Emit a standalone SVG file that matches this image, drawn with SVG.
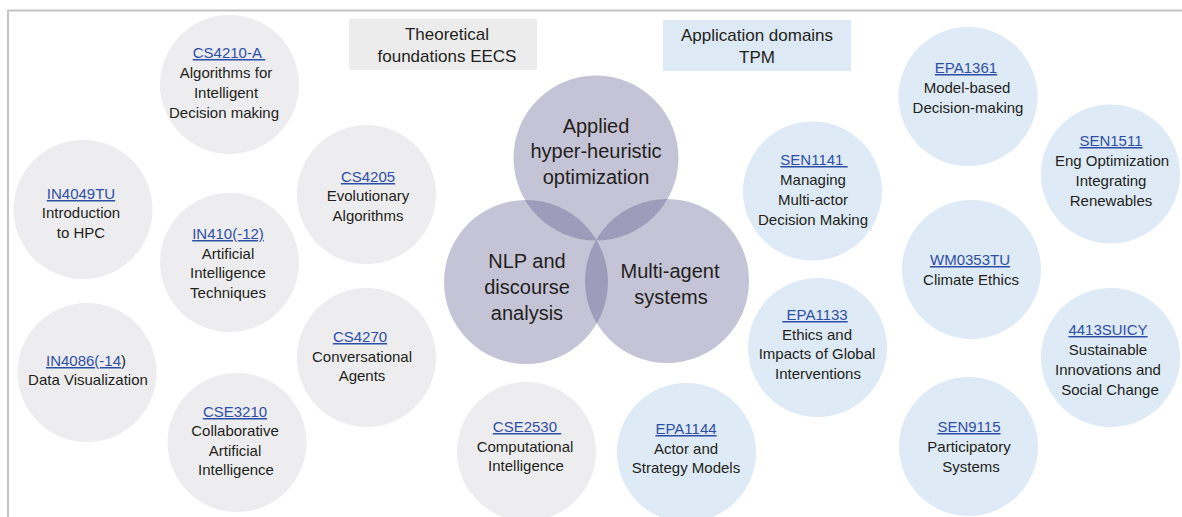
<svg xmlns="http://www.w3.org/2000/svg" width="1182" height="517" viewBox="0 0 1182 517">
  <style>
    text { font-family: "Liberation Sans", Arial, sans-serif; fill: #231f20; text-anchor: middle; white-space: pre; }
    .lbl { font-size: 15px; }
    .hdr { font-size: 17px; }
    .venn-t { font-size: 20px; }
    .code { fill: #2e4ea6; text-decoration: underline; }
    .eecs { fill: #ededef; }
    .tpm { fill: #deeaf5; }
    .venn { fill: #544f87; fill-opacity: 0.34; }
    .frame { stroke: #c4c4c4; stroke-width: 2; fill: none; }
  </style>

  <!-- page frame -->
  <path class="frame" d="M8,517 V10.5 H1182"/>

  <!-- column headers -->
  <g id="hdr-eecs">
    <rect x="349" y="19" width="188" height="51" fill="#ececec"/>
    <text class="hdr" x="447" y="40">Theoretical</text>
    <text class="hdr" x="447" y="62">foundations EECS</text>
  </g>
  <g id="hdr-tpm">
    <rect x="663" y="20" width="188" height="51" fill="#dde9f4"/>
    <text class="hdr" x="757" y="41">Application domains</text>
    <text class="hdr" x="757" y="63">TPM</text>
  </g>

  <!-- EECS courses -->
  <g id="cs4210a">
    <circle class="eecs" cx="229.5" cy="84.5" r="69.5"/>
    <text class="lbl" x="229" y="58"><tspan class="code">CS4210-A </tspan></text>
    <text class="lbl" x="226" y="78">Algorithms for</text>
    <text class="lbl" x="226" y="98">Intelligent</text>
    <text class="lbl" x="224" y="118">Decision making</text>
  </g>
  <g id="in4049tu">
    <circle class="eecs" cx="83" cy="209.5" r="69.5"/>
    <text class="lbl" x="81" y="199"><tspan class="code">IN4049TU</tspan></text>
    <text class="lbl" x="81" y="218">Introduction</text>
    <text class="lbl" x="81" y="238">to HPC</text>
  </g>
  <g id="in410">
    <circle class="eecs" cx="229.5" cy="262.5" r="69.5"/>
    <text class="lbl" x="228" y="239"><tspan class="code">IN410(-12)</tspan></text>
    <text class="lbl" x="228" y="259">Artificial</text>
    <text class="lbl" x="228" y="278">Intelligence</text>
    <text class="lbl" x="228" y="298">Techniques</text>
  </g>
  <g id="cs4205">
    <circle class="eecs" cx="366.5" cy="194.5" r="69.5"/>
    <text class="lbl" x="368" y="182"><tspan class="code">CS4205</tspan></text>
    <text class="lbl" x="368" y="201">Evolutionary</text>
    <text class="lbl" x="368" y="221">Algorithms</text>
  </g>
  <g id="in4086">
    <circle class="eecs" cx="87" cy="372.5" r="69.5"/>
    <text class="lbl" x="86" y="366"><tspan class="code">IN4086(-14</tspan>)</text>
    <text class="lbl" x="88" y="385">Data Visualization</text>
  </g>
  <g id="cs4270">
    <circle class="eecs" cx="366.5" cy="357.5" r="69.5"/>
    <text class="lbl" x="360" y="342"><tspan class="code">CS4270</tspan></text>
    <text class="lbl" x="362" y="362">Conversational</text>
    <text class="lbl" x="362" y="381">Agents</text>
  </g>
  <g id="cse3210">
    <circle class="eecs" cx="237" cy="442.5" r="69.5"/>
    <text class="lbl" x="235" y="417"><tspan class="code">CSE3210</tspan></text>
    <text class="lbl" x="235" y="436">Collaborative</text>
    <text class="lbl" x="235" y="456">Artificial</text>
    <text class="lbl" x="236" y="475">Intelligence</text>
  </g>
  <g id="cse2530">
    <circle class="eecs" cx="526.5" cy="451.5" r="69.5"/>
    <text class="lbl" x="527" y="432"><tspan class="code">CSE2530 </tspan></text>
    <text class="lbl" x="525" y="452">Computational</text>
    <text class="lbl" x="526" y="471">Intelligence</text>
  </g>

  <!-- research themes (overlapping) -->
  <g id="theme-optimization">
    <circle class="venn" cx="596" cy="158" r="82.5"/>
    <text class="venn-t" x="596" y="133">Applied</text>
    <text class="venn-t" x="596" y="158">hyper-heuristic</text>
    <text class="venn-t" x="596" y="184">optimization</text>
  </g>
  <g id="theme-nlp">
    <circle class="venn" cx="526" cy="282" r="82"/>
    <text class="venn-t" x="527" y="268">NLP and</text>
    <text class="venn-t" x="527" y="294">discourse</text>
    <text class="venn-t" x="527" y="320">analysis</text>
  </g>
  <g id="theme-mas">
    <circle class="venn" cx="667" cy="281" r="82"/>
    <text class="venn-t" x="670" y="278">Multi-agent</text>
    <text class="venn-t" x="671" y="304">systems</text>
  </g>

  <!-- TPM courses -->
  <g id="epa1144">
    <circle class="tpm" cx="686.5" cy="452.5" r="69.5"/>
    <text class="lbl" x="686" y="434"><tspan class="code">EPA1144</tspan></text>
    <text class="lbl" x="686" y="454">Actor and</text>
    <text class="lbl" x="686" y="473">Strategy Models</text>
  </g>
  <g id="sen1141">
    <circle class="tpm" cx="812.5" cy="191" r="69.5"/>
    <text class="lbl" x="814" y="165"><tspan class="code">SEN1141 </tspan></text>
    <text class="lbl" x="813" y="185">Managing</text>
    <text class="lbl" x="813" y="205">Multi-actor</text>
    <text class="lbl" x="813" y="225">Decision Making</text>
  </g>
  <g id="epa1361">
    <circle class="tpm" cx="968" cy="96.5" r="69.5"/>
    <text class="lbl" x="966" y="73"><tspan class="code">EPA1361</tspan></text>
    <text class="lbl" x="967" y="93">Model-based</text>
    <text class="lbl" x="968" y="113">Decision-making</text>
  </g>
  <g id="sen1511">
    <circle class="tpm" cx="1110.5" cy="174" r="69.5"/>
    <text class="lbl" x="1111" y="146"><tspan class="code">SEN1511</tspan></text>
    <text class="lbl" x="1112" y="166">Eng Optimization</text>
    <text class="lbl" x="1111" y="186">Integrating</text>
    <text class="lbl" x="1111" y="206">Renewables</text>
  </g>
  <g id="wm0353tu">
    <circle class="tpm" cx="971.5" cy="269.5" r="69.5"/>
    <text class="lbl" x="970" y="265"><tspan class="code">WM0353TU</tspan></text>
    <text class="lbl" x="971" y="285">Climate Ethics</text>
  </g>
  <g id="epa1133">
    <circle class="tpm" cx="817.5" cy="347.5" r="69.5"/>
    <text class="lbl" x="815" y="320"><tspan class="code"> EPA1133</tspan></text>
    <text class="lbl" x="817" y="340">Ethics and</text>
    <text class="lbl" x="817" y="359">Impacts of Global</text>
    <text class="lbl" x="818" y="379">Interventions</text>
  </g>
  <g id="suicy4413">
    <circle class="tpm" cx="1110.5" cy="357.5" r="69.5"/>
    <text class="lbl" x="1108" y="335"><tspan class="code">4413SUICY</tspan></text>
    <text class="lbl" x="1108" y="355">Sustainable</text>
    <text class="lbl" x="1108" y="375">Innovations and</text>
    <text class="lbl" x="1110" y="395">Social Change</text>
  </g>
  <g id="sen9115">
    <circle class="tpm" cx="968.5" cy="446.5" r="69.5"/>
    <text class="lbl" x="969" y="432"><tspan class="code">SEN9115</tspan></text>
    <text class="lbl" x="969" y="452">Participatory</text>
    <text class="lbl" x="971" y="472">Systems</text>
  </g>
</svg>
